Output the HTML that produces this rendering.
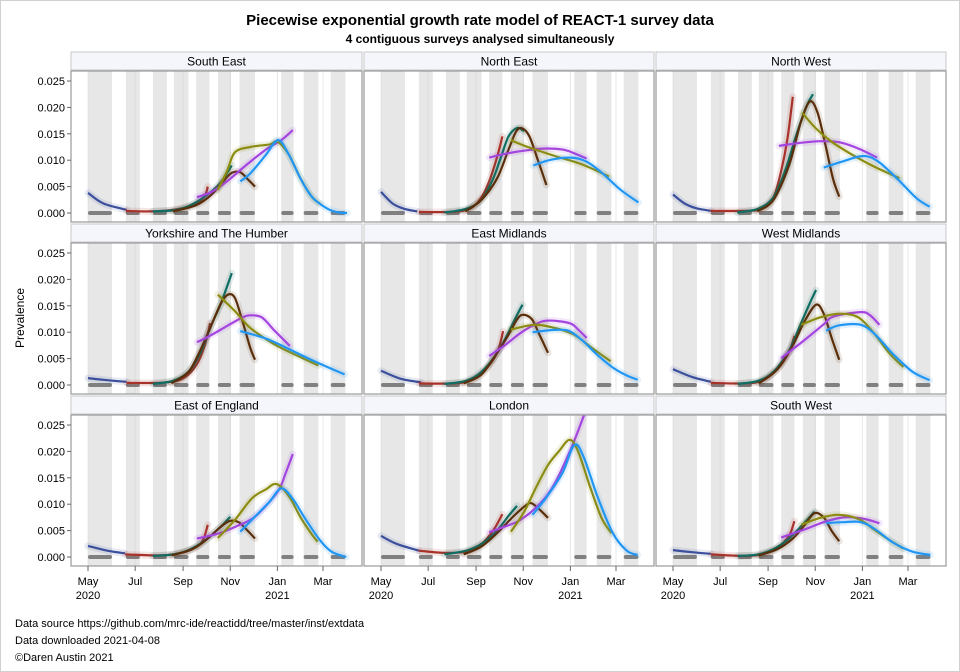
<!DOCTYPE html>
<html><head><meta charset="utf-8"><title>REACT-1 piecewise model</title>
<style>
html,body{margin:0;padding:0;background:#fff;}
svg{display:block;font-family:"Liberation Sans",Arial,sans-serif;}
</style></head>
<body>
<svg id="chart" width="960" height="672" viewBox="0 0 960 672">
<rect x="0.5" y="0.5" width="959" height="671" fill="#fff" stroke="#d0d0d0"/>
<text x="480" y="25" text-anchor="middle" font-size="15" font-weight="bold" fill="#000">Piecewise exponential growth rate model of REACT-1 survey data</text>
<text x="480" y="43" text-anchor="middle" font-size="12" font-weight="bold" fill="#000">4 contiguous surveys analysed simultaneously</text>
<text transform="translate(24,318) rotate(-90)" text-anchor="middle" font-size="12" fill="#000">Prevalence</text>
<text x="15" y="627" font-size="11" fill="#000">Data source https://github.com/mrc-ide/reactidd/tree/master/inst/extdata</text>
<text x="15" y="644" font-size="11" fill="#000">Data downloaded 2021-04-08</text>
<text x="15" y="661" font-size="11" fill="#000">©Daren Austin 2021</text>
<g id="panels"></g>
</svg>
<script>
const regions = ["South East","North East","North West","Yorkshire and The Humber","East Midlands","West Midlands","East of England","London","South West"];
const yTicks = [0,0.005,0.01,0.015,0.02,0.025];
const yTickLabels = ["0.000","0.005","0.010","0.015","0.020","0.025"];
const xTickDays = [0,61,123,184,245,304];
const xTickLabels = [["May","2020"],["Jul"],["Sep"],["Nov"],["Jan","2021"],["Mar"]];
const surveyRounds = [[0,31],[49,67],[84,102],[111,130],[140,157],[168,185],[196,216],[250,266],[279,298],[314,333]];

const seriesNavy = [
 [[0,0.0038],[20,0.0018],[50,0.0006]],
 [[0,0.004],[15,0.0018],[30,0.0008],[47,0.0003]],
 [[0,0.0035],[15,0.0018],[30,0.0009],[49,0.0004]],
 [[0,0.0013],[25,0.0009],[50,0.0006]],
 [[0,0.0027],[25,0.0012],[52,0.0005]],
 [[0,0.003],[25,0.0015],[49,0.0006]],
 [[0,0.0021],[25,0.0012],[48,0.0007]],
 [[0,0.004],[20,0.0025],[49,0.0012]],
 [[0,0.0013],[25,0.0009],[49,0.0006]]
];
const seriesRed = [
 [[49,0.0004],[80,0.0003],[110,0.0006],[135,0.0015],[150,0.003],[155,0.005]],
 [[49,0.0002],[90,0.0002],[115,0.0008],[130,0.003],[140,0.006],[150,0.0105],[157,0.0145]],
 [[49,0.0004],[90,0.0004],[115,0.0008],[130,0.003],[140,0.008],[148,0.014],[155,0.022]],
 [[50,0.0004],[90,0.0004],[115,0.0008],[130,0.002],[143,0.0045],[152,0.008],[158,0.0117]],
 [[49,0.0003],[90,0.0003],[115,0.0008],[135,0.003],[150,0.006],[158,0.0102]],
 [[49,0.0004],[90,0.0003],[115,0.0008],[135,0.003],[150,0.0062],[157,0.0093]],
 [[48,0.0005],[90,0.0003],[115,0.0006],[135,0.0015],[148,0.003],[155,0.0061]],
 [[49,0.0012],[80,0.0008],[110,0.001],[130,0.0025],[145,0.005],[157,0.0081]],
 [[49,0.0005],[90,0.0002],[115,0.0005],[135,0.0018],[150,0.004],[157,0.0068]]
];
const seriesTeal = [
 [[84,0.0003],[110,0.0005],[130,0.0013],[150,0.003],[170,0.0055],[186,0.009]],
 [[82,0.0001],[110,0.0008],[130,0.0025],[145,0.0065],[155,0.0105],[165,0.0145],[176,0.0161],[185,0.0155]],
 [[83,0.0001],[110,0.0008],[130,0.003],[145,0.008],[160,0.015],[172,0.02],[181,0.0225]],
 [[84,0.0002],[110,0.0008],[130,0.0025],[145,0.006],[160,0.0115],[172,0.0155],[186,0.0212]],
 [[82,0.0002],[110,0.0008],[130,0.0025],[150,0.006],[165,0.01],[175,0.013],[183,0.0152]],
 [[84,0.0002],[110,0.0008],[130,0.0025],[150,0.0065],[165,0.0115],[177,0.0155],[185,0.018]],
 [[84,0.0002],[110,0.0005],[130,0.0013],[150,0.003],[170,0.0055],[184,0.0076]],
 [[82,0.0005],[110,0.0012],[130,0.0025],[150,0.005],[165,0.0078],[176,0.0097]],
 [[84,0.0002],[110,0.0005],[130,0.0015],[150,0.0035],[170,0.0065],[183,0.0086]]
];
const seriesBrown = [
 [[110,0.0003],[140,0.0015],[160,0.0035],[175,0.006],[186,0.0076],[197,0.0077],[208,0.0062],[216,0.005]],
 [[109,0.0003],[130,0.0025],[150,0.0065],[165,0.012],[175,0.0155],[183,0.016],[192,0.0145],[203,0.01],[214,0.0053]],
 [[109,0.0003],[130,0.0025],[150,0.009],[165,0.017],[177,0.0211],[187,0.019],[197,0.013],[207,0.0065],[215,0.0031]],
 [[108,0.0003],[130,0.0025],[145,0.0065],[160,0.0115],[172,0.0155],[181,0.0171],[190,0.0165],[200,0.012],[210,0.007],[216,0.0048]],
 [[107,0.0003],[130,0.002],[150,0.006],[165,0.0095],[175,0.0122],[183,0.0133],[195,0.0125],[205,0.0095],[216,0.0061]],
 [[111,0.0003],[135,0.003],[155,0.0075],[170,0.012],[185,0.0152],[195,0.0135],[205,0.009],[215,0.0048]],
 [[108,0.0003],[135,0.0015],[155,0.0035],[170,0.0055],[183,0.0068],[195,0.0066],[205,0.0052],[216,0.0035]],
 [[107,0.0005],[130,0.002],[150,0.0045],[170,0.0075],[185,0.0095],[194,0.0102],[205,0.009],[216,0.0074]],
 [[111,0.0003],[135,0.0015],[155,0.0035],[170,0.006],[183,0.0083],[195,0.0075],[205,0.005],[215,0.003]]
];
const seriesPurple = [
 [[141,0.003],[160,0.004],[180,0.006],[200,0.0085],[230,0.012],[250,0.0138],[265,0.0157]],
 [[140,0.0105],[160,0.0112],[185,0.0118],[210,0.0122],[235,0.012],[250,0.0113],[266,0.0103]],
 [[137,0.0127],[165,0.0133],[191,0.0136],[215,0.0134],[240,0.0122],[264,0.0105]],
 [[141,0.0081],[160,0.0095],[180,0.0112],[200,0.0128],[210,0.0132],[225,0.0128],[240,0.0105],[261,0.0074]],
 [[140,0.0055],[160,0.0075],[180,0.0098],[200,0.0115],[216,0.0122],[244,0.0117],[255,0.0105],[266,0.0089]],
 [[140,0.0051],[170,0.0085],[195,0.0115],[208,0.013],[243,0.0138],[255,0.0132],[267,0.0114]],
 [[141,0.0035],[170,0.0045],[195,0.006],[215,0.0075],[235,0.0105],[248,0.013],[256,0.016],[265,0.0195]],
 [[140,0.0047],[155,0.0055],[180,0.007],[207,0.0103],[225,0.014],[246,0.0206],[263,0.027]],
 [[140,0.0037],[170,0.0052],[195,0.0066],[221,0.0075],[245,0.0073],[267,0.0064]]
];
const seriesOlive = [
 [[168,0.0044],[180,0.008],[190,0.0115],[210,0.0125],[235,0.013],[245,0.0135],[260,0.011],[275,0.0065],[290,0.003],[300,0.0018]],
 [[168,0.0138],[190,0.0125],[225,0.0108],[260,0.0092],[295,0.0069]],
 [[167,0.019],[185,0.016],[205,0.0135],[230,0.0112],[260,0.0088],[293,0.0066]],
 [[168,0.0171],[190,0.014],[210,0.0108],[240,0.0078],[270,0.0056],[298,0.0037]],
 [[168,0.0105],[198,0.0114],[225,0.0108],[250,0.0095],[275,0.0068],[297,0.0045]],
 [[166,0.0114],[190,0.0128],[217,0.0135],[240,0.0128],[260,0.0098],[280,0.006],[298,0.0034]],
 [[168,0.0036],[190,0.007],[212,0.0111],[230,0.0128],[244,0.0138],[260,0.0115],[275,0.0075],[290,0.0042],[297,0.0029]],
 [[168,0.0048],[185,0.0085],[200,0.013],[216,0.0174],[230,0.02],[244,0.0222],[255,0.02],[270,0.0135],[285,0.0075],[298,0.0045]],
 [[166,0.0061],[190,0.0074],[214,0.008],[240,0.0072],[260,0.0052],[280,0.0032],[298,0.0016]]
];
const seriesBlue = [
 [[197,0.006],[210,0.0075],[230,0.011],[246,0.0138],[260,0.011],[275,0.0065],[290,0.003],[310,0.0008],[325,0.0001],[335,0]],
 [[197,0.009],[220,0.0101],[246,0.0105],[265,0.0098],[285,0.0077],[310,0.0044],[333,0.002]],
 [[195,0.0086],[220,0.0098],[246,0.0108],[265,0.0098],[290,0.0065],[315,0.0028],[332,0.0012]],
 [[197,0.0102],[230,0.0088],[260,0.0068],[290,0.0047],[332,0.002]],
 [[196,0.01],[220,0.0104],[242,0.0103],[260,0.0085],[280,0.0057],[300,0.0033],[318,0.0018],[332,0.001]],
 [[198,0.0103],[215,0.0113],[243,0.0114],[262,0.0095],[285,0.0058],[310,0.0025],[332,0.0009]],
 [[197,0.0048],[215,0.0075],[235,0.0105],[250,0.013],[265,0.011],[280,0.0075],[300,0.0032],[315,0.001],[334,0]],
 [[196,0.008],[215,0.0115],[235,0.016],[250,0.0212],[262,0.019],[280,0.0115],[300,0.0045],[318,0.0012],[332,0.0004]],
 [[198,0.0064],[220,0.0066],[243,0.0066],[262,0.0052],[285,0.0027],[310,0.001],[333,0.0004]]
];

const seriesList = [
 {name:"navy", data:seriesNavy, color:"#3b4f9c"},
 {name:"red", data:seriesRed, color:"#a8322a"},
 {name:"teal", data:seriesTeal, color:"#0f6e64"},
 {name:"brown", data:seriesBrown, color:"#5a2e0a"},
 {name:"purple", data:seriesPurple, color:"#a445e0"},
 {name:"olive", data:seriesOlive, color:"#8c8c12"},
 {name:"blue", data:seriesBlue, color:"#2196f3"}
];

const NS = "http://www.w3.org/2000/svg";
const colLeft = [71, 364, 656];
const colW = [291, 290, 290];
const rowHeaderTop = [52, 224, 396];
const PX_PER_DAY = 0.773;
const PX_PER_UNIT = 5280;

function mk(tag, attrs, parent){
  const e = document.createElementNS(NS, tag);
  for (const k in attrs) e.setAttribute(k, attrs[k]);
  if (parent) parent.appendChild(e);
  return e;
}
function smoothPath(pts){
  if (pts.length < 2) return "";
  let d = "M" + pts[0][0].toFixed(1) + "," + pts[0][1].toFixed(1);
  for (let i = 0; i < pts.length - 1; i++){
    const p0 = pts[i-1] || pts[i], p1 = pts[i], p2 = pts[i+1], p3 = pts[i+2] || pts[i+1];
    const c1x = p1[0] + (p2[0]-p0[0])/6, c1y = p1[1] + (p2[1]-p0[1])/6;
    const c2x = p2[0] - (p3[0]-p1[0])/6, c2y = p2[1] - (p3[1]-p1[1])/6;
    d += " C" + c1x.toFixed(1)+","+c1y.toFixed(1)+" "+c2x.toFixed(1)+","+c2y.toFixed(1)+" "+p2[0].toFixed(1)+","+p2[1].toFixed(1);
  }
  return d;
}

const root = document.getElementById("panels");
const defs = mk("defs", {}, root);

regions.forEach((reg, ri) => {
  const col = ri % 3, row = Math.floor(ri / 3);
  const left = colLeft[col], w = colW[col];
  const hTop = rowHeaderTop[row];
  const pTop = hTop + 19, pH = 151;
  const zeroY = pTop + 142;
  const mayX = left + 17;
  const xs = d => mayX + d * PX_PER_DAY;
  const ys = v => zeroY - v * PX_PER_UNIT;

  const g = mk("g", {}, root);
  
  

  const cp = mk("clipPath", {id: "clip" + ri}, defs);
  mk("rect", {x: left, y: pTop, width: w, height: pH}, cp);

  const hdr = mk("rect", {x: left, y: hTop, width: w, height: 18, fill: "#f5f6fb", stroke: "#c8c8c8"}, g);
  
  
  const ht = mk("text", {x: left + w/2, y: hTop + 13.5, "text-anchor": "middle", "font-size": "12", fill: "#000"}, g);
  ht.textContent = reg;
  
  

  const plot = mk("g", {"clip-path": "url(#clip" + ri + ")"}, g);
  
  

  xTickDays.forEach(d => {
    const gl = mk("line", {x1: xs(d), x2: xs(d), y1: pTop, y2: pTop + pH, stroke: "#e8e8e8", "stroke-width": 1}, plot);
    
    
  });
  surveyRounds.forEach(r => {
    const b = mk("rect", {x: xs(r[0]), y: pTop, width: (r[1]-r[0]) * PX_PER_DAY, height: pH, fill: "#cfcfcf", opacity: 0.5}, plot);
    
    
    const z = mk("line", {x1: xs(r[0]) + 2, x2: xs(r[1]) - 2, y1: zeroY, y2: zeroY, stroke: "#808080", "stroke-width": 4, "stroke-linecap": "round"}, plot);
    
    
  });

  seriesList.forEach(s => {
    const pts = s.data[ri].map(p => [xs(p[0]), ys(p[1])]);
    const d = smoothPath(pts);
    const band = mk("path", {d: d, fill: "none", stroke: s.color, "stroke-width": 7, opacity: 0.12, "stroke-linecap": "round"}, plot);
    
    
    const ln = mk("path", {d: d, fill: "none", stroke: s.color, "stroke-width": 2.2}, plot);
    
    
  });

  const fr = mk("rect", {x: left, y: pTop, width: w, height: pH, fill: "none", stroke: "#9a9a9a", "stroke-width": 1.2}, g);
  
  

  if (col === 0){
    yTicks.forEach((v, i) => {
      const tk = mk("line", {x1: left - 4, x2: left, y1: ys(v), y2: ys(v), stroke: "#666"}, g);
      
      
      const tl = mk("text", {x: left - 6, y: ys(v) + 4, "text-anchor": "end", "font-size": "11", fill: "#000"}, g);
      tl.textContent = yTickLabels[i];
      
      
    });
  }
  if (row === 2){
    xTickDays.forEach((d, i) => {
      const tk = mk("line", {x1: xs(d), x2: xs(d), y1: pTop + pH, y2: pTop + pH + 5, stroke: "#666"}, g);
      
      
      xTickLabels[i].forEach((t, j) => {
        const tl = mk("text", {x: xs(d), y: pTop + pH + 19 + j * 14, "text-anchor": "middle", "font-size": "11", fill: "#000"}, g);
        tl.textContent = t;
        
        
      });
    });
  }
});
</script>
</body></html>
